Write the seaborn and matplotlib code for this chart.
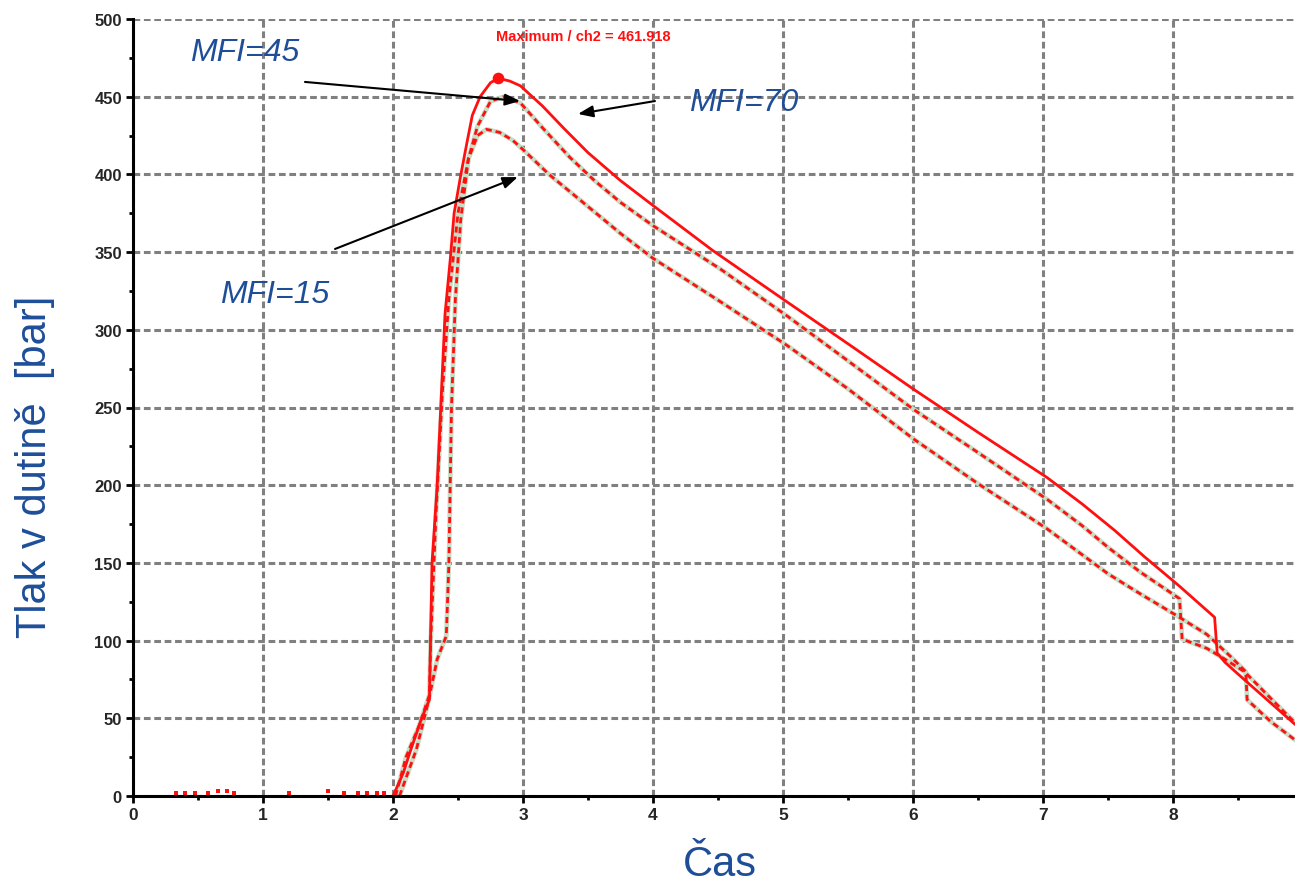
import numpy as np
import pandas as pd
import matplotlib
matplotlib.use("Agg")
import matplotlib.pyplot as plt
import seaborn as sns

# ---------------- data ----------------
mfi70_x = [2.00, 2.08, 2.13, 2.22, 2.28, 2.285, 2.30, 2.34, 2.37, 2.40, 2.44, 2.47, 2.52, 2.57, 2.61, 2.67,
           2.75, 2.81, 2.90, 2.98, 3.15, 3.31, 3.50, 3.75, 4.00, 4.46, 5.03, 5.50, 6.00, 6.50, 7.03, 7.30,
           7.55, 7.78, 8.05, 8.32, 8.34, 8.40, 8.52, 8.75, 8.94]
mfi70_y = [0, 15, 28, 50, 62, 84, 150, 200, 255, 310, 345, 375, 399, 421, 438, 450,
           459, 461.9, 460, 457, 444, 430, 414, 396, 380, 351, 318, 291, 262, 234, 205, 188,
           171, 154, 135, 115, 92, 86, 77, 60, 46]

mfi45_x = [2.05, 2.18, 2.27, 2.34, 2.41, 2.43, 2.45, 2.48, 2.52, 2.58, 2.65, 2.75, 2.85, 2.98, 3.15, 3.36,
           3.55, 3.75, 4.00, 4.52, 5.03, 5.50, 6.00, 6.50, 7.03, 7.30, 7.50, 7.75, 8.05, 8.07, 8.26, 8.40,
           8.55, 8.75, 8.94]
mfi45_y = [0, 30, 60, 88, 103, 150, 250, 320, 370, 410, 431, 447, 450, 446, 430, 411,
           396, 382, 367, 339, 309, 280, 249, 221, 191, 174, 160, 144, 127, 101, 95, 88,
           80, 63, 47]

mfi15_x = [2.02, 2.10, 2.20, 2.28, 2.29, 2.33, 2.38, 2.43, 2.50, 2.58, 2.65, 2.72, 2.82, 2.92, 3.00, 3.20,
           3.49, 3.75, 4.00, 4.52, 5.03, 5.50, 6.00, 6.50, 7.03, 7.50, 7.75, 8.03, 8.26, 8.44, 8.56, 8.57,
           8.75, 8.94]
mfi15_y = [0, 25, 45, 65, 100, 180, 260, 320, 375, 410, 425, 429, 427, 422, 416, 400,
           380, 362, 346, 318, 290, 262, 230, 201, 172, 143, 130, 116, 104, 90, 80, 62,
           48, 36]

noise_x = [0.33, 0.40, 0.48, 0.58, 0.65, 0.72, 0.78, 1.20, 1.50, 1.62, 1.73, 1.80, 1.88, 1.93]
noise_y = [2, 2, 2, 2, 3, 3, 2, 2, 3, 2, 2, 2, 2, 2]

peak_x = [2.81]
peak_y = [461.918]

x_ticks = [0, 1, 2, 3, 4, 5, 6, 7, 8]
y_ticks = [0, 50, 100, 150, 200, 250, 300, 350, 400, 450, 500]

labels = ["MFI=45", "MFI=70", "MFI=15"]
max_text = "Maximum / ch2 = 461.918"
x_label = "Čas"
y_label = "Tlak v dutině  [bar]"

# ---------------- figure ----------------
sns.set_style("white")
plt.rcParams['font.family'] = ['Liberation Sans', 'DejaVu Sans']

W, H = 1295, 887
fig = plt.figure(figsize=(W / 100, H / 100), dpi=100)
ax = fig.add_axes([133 / W, 1 - 797 / H, (W - 133) / W, (797 - 20) / H])

blue = "#1F4E99"
red = "#FF1010"
green = "#C6DEC6"

df70 = pd.DataFrame({"x": mfi70_x, "y": mfi70_y})
df45 = pd.DataFrame({"x": mfi45_x, "y": mfi45_y})
df15 = pd.DataFrame({"x": mfi15_x, "y": mfi15_y})

for d in (df45, df15):
    sns.lineplot(data=d, x="x", y="y", ax=ax, sort=False, estimator=None,
                 color=green, lw=3.4, zorder=3)
    sns.lineplot(data=d, x="x", y="y", ax=ax, sort=False, estimator=None,
                 color=red, lw=2.0, linestyle=(0, (2.2, 1.4)), zorder=4)
sns.lineplot(data=df70, x="x", y="y", ax=ax, sort=False, estimator=None,
             color=red, lw=2.0, zorder=5)

sns.scatterplot(x=noise_x, y=noise_y, ax=ax, color=red, s=10, marker="s",
                linewidth=0, zorder=5, clip_on=False)
sns.scatterplot(x=peak_x, y=peak_y, ax=ax, color=red, s=70, linewidth=0, zorder=6)

ax.set_xlim(0, (W - 133) / 130)
ax.set_ylim(0, 500)
ax.set_xticks(x_ticks)
ax.set_yticks(y_ticks)
ax.set_xticks(np.arange(0.5, 9, 1), minor=True)
ax.set_yticks(np.arange(25, 500, 50), minor=True)
ax.set_xticklabels([str(t) for t in x_ticks], fontsize=12.5, fontweight="bold")
ax.set_yticklabels([str(t) for t in y_ticks], fontsize=12, fontweight="bold")
ax.tick_params(axis="both", which="major", direction="out", length=5, width=2, color="black", pad=3,
               left=True, bottom=True)
ax.tick_params(axis="both", which="minor", direction="out", length=3, width=2, color="black",
               left=True, bottom=True)
ax.set_xlabel("")
ax.set_ylabel("")

ax.grid(True, which="major", color="#808080", lw=2.2, linestyle=(0, (2.2, 1.2)), zorder=1)
ax.set_axisbelow(True)
for s in ("top", "right"):
    ax.spines[s].set_visible(False)
for s in ("left", "bottom"):
    ax.spines[s].set_color("black")
    ax.spines[s].set_linewidth(2.2)
    ax.spines[s].set_zorder(7)

# texts
ax.text(3.46, 489, max_text, color=red, fontsize=10.5, fontweight="bold", ha="center", va="center")
ax.text(0.862, 479, labels[0], color=blue, fontsize=23, style="italic", ha="center", va="center")
ax.text(4.70, 446.6, labels[1], color=blue, fontsize=23, style="italic", ha="center", va="center")
ax.text(1.092, 323, labels[2], color=blue, fontsize=23, style="italic", ha="center", va="center")

arrow = dict(arrowstyle="-|>,head_length=0.9,head_width=0.35", color="black", lw=1.5,
             shrinkA=0, shrinkB=0)
ax.annotate("", xy=(2.977, 447.2), xytext=(1.323, 459.5), arrowprops=arrow, zorder=8)
ax.annotate("", xy=(3.423, 438.9), xytext=(4.015, 447.2), arrowprops=arrow, zorder=8)
ax.annotate("", xy=(2.96, 398.3), xytext=(1.554, 352), arrowprops=arrow, zorder=8)

fig.text(35 / W, 1 - 467 / H, y_label, rotation=90, color=blue, fontsize=30, ha="center", va="center")
fig.text(720 / W, 1 - 865 / H, x_label, color=blue, fontsize=30, ha="center", va="center")

fig.savefig("out.png", dpi=100)
